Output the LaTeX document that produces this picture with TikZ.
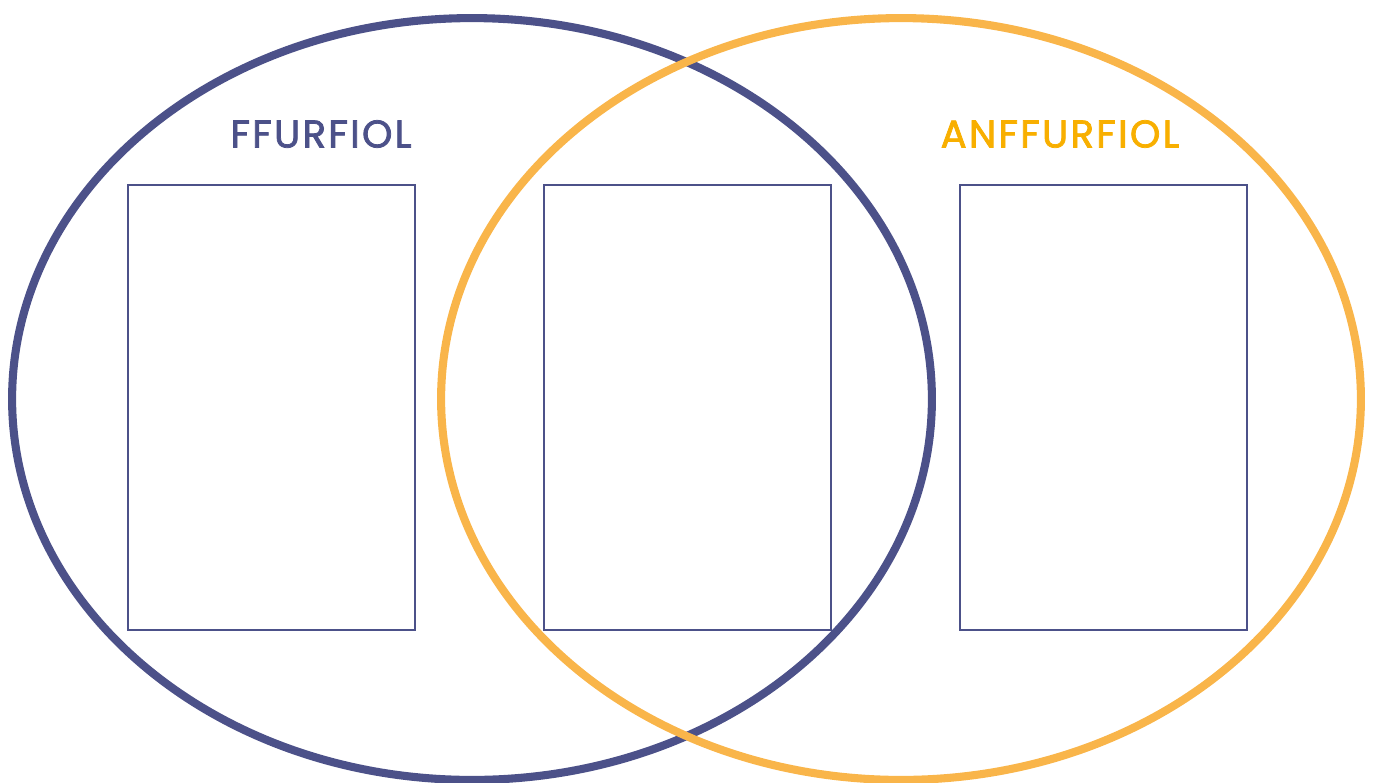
\documentclass[tikz,border=0pt]{standalone}
\usepackage{fontspec}
\setmainfont{Poppins}[LetterSpace=6,FakeBold=2]
\usepackage{tikz}
\definecolor{ffblue}{HTML}{4C5189}
\definecolor{ffgold}{HTML}{F9B54A}
\definecolor{fftext}{HTML}{F8AF00}

\begin{document}
\begin{tikzpicture}[x=0.02cm,y=-0.02cm,
  panel/.style={draw=ffblue,line width=1.1pt,minimum width=5.74cm,minimum height=8.9cm,inner sep=0pt},
  heading/.style={font=\fontsize{22}{25}\selectfont}]
  \useasboundingbox (0,0) rectangle (1376,782);
  \path[draw,ffblue,line width=4.6pt] (472,399) ellipse [x radius=9.2cm,y radius=7.62cm];
  \path[draw,ffgold,line width=4.6pt] (901,399) ellipse [x radius=9.2cm,y radius=7.62cm];
  \node[heading,text=ffblue] (lefthead) at (321,134) {FFURFIOL};
  \node[heading,text=fftext] (righthead) at (1060,134) {ANFFURFIOL};
  \node[panel] (leftbox) at (271.5,407.5) {};
  \node[panel] (midbox) at (687.5,407.5) {};
  \node[panel] (rightbox) at (1103.5,407.5) {};
\end{tikzpicture}
\end{document}
